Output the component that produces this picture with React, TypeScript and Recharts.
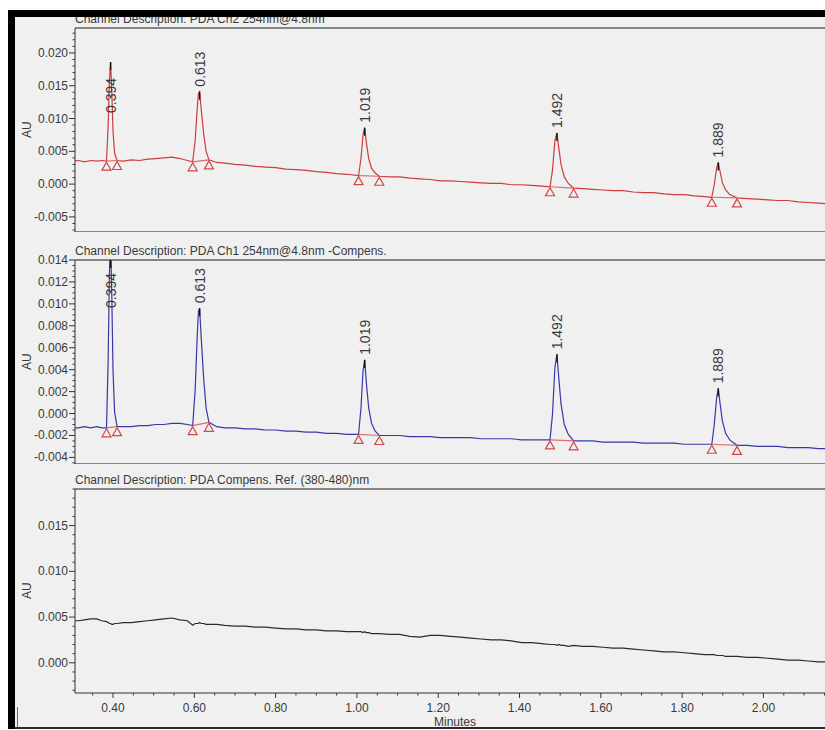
import React from 'react';
import { ComposedChart, Line, XAxis, YAxis, CartesianGrid, Scatter, ReferenceLine, Label } from 'recharts';

// retention time grid (minutes), denser around the five peaks
const minutes = [
  0.300, 0.315, 0.330, 0.345, 0.360, 0.372, 0.384,
  0.388, 0.391, 0.394, 0.397, 0.400, 0.404, 0.410,
  0.425, 0.445, 0.465, 0.485, 0.505, 0.525, 0.545, 0.565, 0.583, 0.596,
  0.602, 0.607, 0.610, 0.613, 0.617, 0.623, 0.629, 0.636,
  0.655, 0.675, 0.700, 0.725, 0.750, 0.775, 0.800, 0.825, 0.850, 0.875, 0.900, 0.925, 0.950, 0.975, 1.004,
  1.010, 1.015, 1.019, 1.023, 1.029, 1.036, 1.045, 1.055,
  1.080, 1.105, 1.130, 1.155, 1.180, 1.205, 1.230, 1.255, 1.280, 1.305, 1.330, 1.355, 1.380, 1.405, 1.430, 1.455, 1.475,
  1.481, 1.487, 1.492, 1.496, 1.502, 1.510, 1.520, 1.533,
  1.555, 1.580, 1.605, 1.630, 1.655, 1.680, 1.705, 1.730, 1.755, 1.780, 1.805, 1.830, 1.855, 1.873,
  1.879, 1.885, 1.889, 1.893, 1.899, 1.907, 1.917, 1.935,
  1.960, 1.985, 2.010, 2.035, 2.060, 2.085, 2.110, 2.135, 2.160,
];

// PDA Ch2 254nm@4.8nm
const ch2AU = [
  0.0035, 0.0036, 0.0034, 0.0036, 0.0035, 0.0036, 0.0035,
  0.0088, 0.0156, 0.0186, 0.0141, 0.0080, 0.0047, 0.0036,
  0.0035, 0.0037, 0.0036, 0.0038, 0.0039, 0.0040, 0.0041, 0.0039, 0.0036, 0.0034,
  0.0066, 0.0114, 0.0138, 0.0141, 0.0114, 0.0077, 0.0050, 0.0037,
  0.0033, 0.0032, 0.0030, 0.0029, 0.0027, 0.0026, 0.0025, 0.0023, 0.0022, 0.0021, 0.0019, 0.0018, 0.0016, 0.0015, 0.0013,
  0.0039, 0.0075, 0.0086, 0.0064, 0.0039, 0.0024, 0.0017, 0.0012,
  0.0011, 0.0011, 0.0009, 0.0008, 0.0007, 0.0005, 0.0005, 0.0004, 0.0003, 0.0002, 0.0001, 0.0001, -0.0001, -0.0001, -0.0002, -0.0003, -0.0004,
  0.0021, 0.0066, 0.0078, 0.0058, 0.0030, 0.0011, 0.0001, -0.0006,
  -0.0007, -0.0008, -0.0009, -0.0010, -0.0010, -0.0012, -0.0013, -0.0013, -0.0015, -0.0016, -0.0016, -0.0018, -0.0019, -0.0020,
  -0.0001, 0.0025, 0.0033, 0.0020, 0.0002, -0.0009, -0.0016, -0.0021,
  -0.0022, -0.0023, -0.0024, -0.0025, -0.0025, -0.0027, -0.0028, -0.0029, -0.0030,
];

// PDA Ch1 254nm@4.8nm -Compens.
const ch1AU = [
  -0.0013, -0.0013, -0.0012, -0.0013, -0.0012, -0.0013, -0.0013,
  0.0048, 0.0125, 0.0160, 0.0108, 0.0039, 0.0001, -0.0012,
  -0.0012, -0.0012, -0.0011, -0.0011, -0.0010, -0.0010, -0.0009, -0.0009, -0.0010, -0.0011,
  0.0021, 0.0069, 0.0093, 0.0096, 0.0069, 0.0032, 0.0005, -0.0008,
  -0.0012, -0.0013, -0.0013, -0.0014, -0.0014, -0.0015, -0.0015, -0.0016, -0.0016, -0.0017, -0.0017, -0.0018, -0.0018, -0.0019, -0.0019,
  0.0005, 0.0039, 0.0049, 0.0029, 0.0005, -0.0009, -0.0016, -0.0020,
  -0.0020, -0.0020, -0.0021, -0.0021, -0.0021, -0.0022, -0.0022, -0.0022, -0.0022, -0.0023, -0.0023, -0.0023, -0.0023, -0.0024, -0.0024, -0.0024, -0.0024,
  -0.0001, 0.0042, 0.0054, 0.0035, 0.0009, -0.0010, -0.0019, -0.0025,
  -0.0025, -0.0025, -0.0026, -0.0026, -0.0026, -0.0026, -0.0027, -0.0027, -0.0027, -0.0027, -0.0028, -0.0028, -0.0028, -0.0028,
  -0.0010, 0.0015, 0.0023, 0.0010, -0.0007, -0.0018, -0.0024, -0.0029,
  -0.0029, -0.0030, -0.0030, -0.0030, -0.0031, -0.0031, -0.0031, -0.0032, -0.0032,
];

// PDA Compens. Ref. (380-480)nm
const refAU = [
  0.0046, 0.0046, 0.0047, 0.0048, 0.0048, 0.0046, 0.0045,
  0.0044, 0.0043, 0.0043, 0.0042, 0.0042, 0.0043, 0.0043,
  0.0044, 0.0044, 0.0045, 0.0046, 0.0047, 0.0048, 0.0049, 0.0047, 0.0046, 0.0041,
  0.0043, 0.0043, 0.0043, 0.0044, 0.0043, 0.0043, 0.0042, 0.0042,
  0.0042, 0.0041, 0.0040, 0.0040, 0.0039, 0.0039, 0.0038, 0.0037, 0.0037, 0.0036, 0.0036, 0.0035, 0.0035, 0.0034, 0.0034,
  0.0034, 0.0033, 0.0034, 0.0033, 0.0033, 0.0032, 0.0032, 0.0032,
  0.0031, 0.0031, 0.0029, 0.0028, 0.0030, 0.0030, 0.0029, 0.0028, 0.0027, 0.0026, 0.0025, 0.0025, 0.0024, 0.0022, 0.0022, 0.0021, 0.0020,
  0.0020, 0.0020, 0.0019, 0.0020, 0.0019, 0.0019, 0.0018, 0.0019,
  0.0018, 0.0018, 0.0017, 0.0016, 0.0016, 0.0015, 0.0014, 0.0013, 0.0012, 0.0012, 0.0011, 0.0010, 0.0009, 0.0009,
  0.0009, 0.0008, 0.0008, 0.0008, 0.0008, 0.0007, 0.0007, 0.0007,
  0.0006, 0.0006, 0.0005, 0.0004, 0.0003, 0.0003, 0.0002, 0.0001, 0.0001,
];

const peakLabels = ['0.394', '0.613', '1.019', '1.492', '1.889'];
const peakApex = [0.394, 0.613, 1.019, 1.492, 1.889];
const peakStart = [0.384, 0.596, 1.004, 1.475, 1.873];
const peakEnd = [0.410, 0.636, 1.055, 1.533, 1.935];

const xMajorTicks = [0.4, 0.6, 0.8, 1.0, 1.2, 1.4, 1.6, 1.8, 2.0];
const ch2Ticks = [-0.005, 0, 0.005, 0.01, 0.015, 0.02];
const ch1Ticks = [-0.004, -0.002, 0, 0.002, 0.004, 0.006, 0.008, 0.01, 0.012, 0.014];
const refTicks = [0, 0.005, 0.01, 0.015];

const X_DOMAIN: [number, number] = [0.3065, 2.176];
const PLOT_TOP = 18;
const PLOT_H = 204;
const AXIS_W = 67;
const CHART_W = 827;
const FONT = '"Liberation Sans", Arial, sans-serif';
const INK = '#3a3a3a';

function steps(from: number, to: number, step: number) {
  const out: number[] = [];
  const start = Math.ceil(from / step - 1e-6) * step;
  for (let v = start; v <= to + 1e-9; v += step) out.push(Math.round(v * 1e5) / 1e5);
  return out;
}

const isMajor = (v: number, majors: number[]) => majors.some((m) => Math.abs(m - v) < 1e-7);

const xTicks = steps(0.35, 2.15, 0.05);

function XTick(props: any) {
  const { x, y, payload } = props;
  const major = isMajor(payload.value, xMajorTicks);
  return (
    <g>
      <line x1={x} x2={x} y1={y} y2={y + (major ? 5 : 2.5)} stroke="#333" />
      {major && (
        <text x={x} y={y + 19} textAnchor="middle" fontSize={12} fill={INK} fontFamily={FONT}>
          {payload.value.toFixed(2)}
        </text>
      )}
    </g>
  );
}

function makeYTick(majors: number[]) {
  return (props: any) => {
    const { x, y, payload } = props;
    const major = isMajor(payload.value, majors);
    return (
      <g>
        <line x1={x - (major ? 6 : 2.5)} x2={x} y1={y} y2={y} stroke="#333" />
        {major && (
          <text x={x - 7} y={y + 4} textAnchor="end" fontSize={12} fill={INK} fontFamily={FONT}>
            {payload.value.toFixed(3)}
          </text>
        )}
      </g>
    );
  };
}

interface PanelProps {
  values: number[];
  domain: [number, number];
  majors: number[];
  minorStep: number;
  color: string;
  showX?: boolean;
  peaks?: boolean;
  labelFloor?: number;
}

function Panel({ values, domain, majors, minorStep, color, showX, peaks, labelFloor = 60 }: PanelProps) {
  const data = minutes.map((t, i) => ({ t, v: values[i] }));
  const at = (t: number) => values[minutes.findIndex((m) => Math.abs(m - t) < 1e-9)];
  const yTicks = Array.from(new Set([...steps(domain[0], domain[1], minorStep), ...majors])).sort((a, b) => a - b);

  const apexPoints = peaks ? peakApex.map((t, i) => ({ t, v: at(t), label: peakLabels[i] })) : [];
  const edgePoints = peaks
    ? [...peakStart.map((t) => ({ t, v: at(t) })), ...peakEnd.map((t) => ({ t, v: at(t) }))]
    : [];

  const renderApex = (p: any) => {
    const cx = p.cx;
    const cy = Math.max(p.cy, PLOT_TOP);
    let ly = cy - 5;
    if (ly - 38 < PLOT_TOP + 2) ly = labelFloor;
    return (
      <g>
        <line x1={cx} x2={cx} y1={cy} y2={cy + 8} stroke="#111" strokeWidth={1.4} />
        <text
          x={cx}
          y={ly}
          transform={`rotate(-90 ${cx} ${ly})`}
          fontSize={14}
          fill={INK}
          fontFamily={FONT}
          dominantBaseline="central"
        >
          {p.payload.label}
        </text>
      </g>
    );
  };

  const renderTriangle = (p: any) => (
    <polygon
      points={`${p.cx},${p.cy + 1} ${p.cx - 4.5},${p.cy + 9} ${p.cx + 4.5},${p.cy + 9}`}
      fill="none"
      stroke="#d04848"
      strokeWidth={1.2}
    />
  );

  const height = PLOT_TOP + PLOT_H + (showX ? 36 : 0);

  return (
    <ComposedChart width={CHART_W} height={height} data={data} margin={{ top: PLOT_TOP, right: 0, bottom: 0, left: 0 }}>
      <CartesianGrid
        vertical={false}
        horizontalPoints={showX ? [PLOT_TOP] : [PLOT_TOP, PLOT_TOP + PLOT_H]}
        stroke="#858585"
        strokeWidth={2}
      />
      <XAxis
        type="number"
        dataKey="t"
        domain={X_DOMAIN}
        allowDataOverflow
        hide={!showX}
        ticks={xTicks}
        interval={0}
        tickSize={0}
        tickMargin={0}
        tick={XTick}
        axisLine={{ stroke: '#333' }}
        height={36}
      >
        <Label value="Minutes" position="insideBottom" offset={3} fontSize={12} fill={INK} fontFamily={FONT} />
      </XAxis>
      <YAxis
        type="number"
        domain={domain}
        allowDataOverflow
        ticks={yTicks}
        interval={0}
        tickSize={0}
        tickMargin={0}
        width={AXIS_W}
        tick={makeYTick(majors)}
        axisLine={{ stroke: '#333' }}
      />
      <Line type="linear" dataKey="v" stroke={color} strokeWidth={1.2} dot={false} isAnimationActive={false} />
      {peaks &&
        peakStart.map((s, i) => (
          <ReferenceLine
            key={s}
            segment={[
              { x: s, y: at(s) },
              { x: peakEnd[i], y: at(peakEnd[i]) },
            ]}
            stroke="#e06a6a"
            strokeWidth={1.2}
            ifOverflow="visible"
          />
        ))}
      {peaks && <Scatter data={edgePoints} dataKey="v" shape={renderTriangle} isAnimationActive={false} />}
      {peaks && <Scatter data={apexPoints} dataKey="v" shape={renderApex} isAnimationActive={false} />}
    </ComposedChart>
  );
}

const titleStyle: React.CSSProperties = {
  position: 'absolute',
  left: AXIS_W,
  fontSize: 12,
  lineHeight: '13px',
  color: INK,
  fontFamily: FONT,
  whiteSpace: 'nowrap',
};

function AU({ top }: { top: number }) {
  return (
    <div
      style={{
        position: 'absolute',
        left: 11,
        top: top + PLOT_TOP + PLOT_H / 2 - 7,
        width: 16,
        height: 14,
        lineHeight: '14px',
        fontSize: 12,
        color: INK,
        fontFamily: FONT,
        textAlign: 'center',
        transform: 'rotate(-90deg)',
      }}
    >
      AU
    </div>
  );
}

export default function App() {
  const tops = [0, 232, 461];
  return (
    <div
      style={{
        position: 'fixed',
        left: 8,
        top: 10,
        width: 817,
        height: 719,
        overflow: 'hidden',
        background: '#f0f0f0',
      }}
    >
      <div style={{ position: 'absolute', left: 0, top: tops[0] }}>
        <Panel values={ch2AU} domain={[-0.0073, 0.0238]} majors={ch2Ticks} minorStep={0.001} color="#cc3d3d" peaks labelFloor={103} />
      </div>
      <div style={{ position: 'absolute', left: 0, top: tops[1] }}>
        <Panel values={ch1AU} domain={[-0.0046, 0.014]} majors={ch1Ticks} minorStep={0.0005} color="#3838a8" peaks labelFloor={66} />
      </div>
      <div style={{ position: 'absolute', left: 0, top: tops[2] }}>
        <Panel values={refAU} domain={[-0.0033, 0.019]} majors={refTicks} minorStep={0.001} color="#2b2b2b" showX />
      </div>

      <div style={{ ...titleStyle, top: tops[0] + PLOT_TOP - 15 }}>Channel Description: PDA Ch2 254nm@4.8nm</div>
      <div style={{ ...titleStyle, top: tops[1] + PLOT_TOP - 15 }}>Channel Description: PDA Ch1 254nm@4.8nm -Compens.</div>
      <div style={{ ...titleStyle, top: tops[2] + PLOT_TOP - 15 }}>Channel Description: PDA Compens. Ref. (380-480)nm</div>

      {tops.map((t) => (
        <AU key={t} top={t} />
      ))}

      {/* window frame */}
      <div style={{ position: 'absolute', left: 0, top: 0, width: '100%', height: 7, background: '#000' }} />
      <div style={{ position: 'absolute', left: 0, top: 0, width: 7, height: '100%', background: '#000' }} />
      <div style={{ position: 'absolute', left: 7, top: 717, width: '100%', height: 2, background: '#2a2a2a' }} />
      <div style={{ position: 'absolute', left: 9, top: 697, width: 1, height: 20, background: '#666' }} />
    </div>
  );
}
